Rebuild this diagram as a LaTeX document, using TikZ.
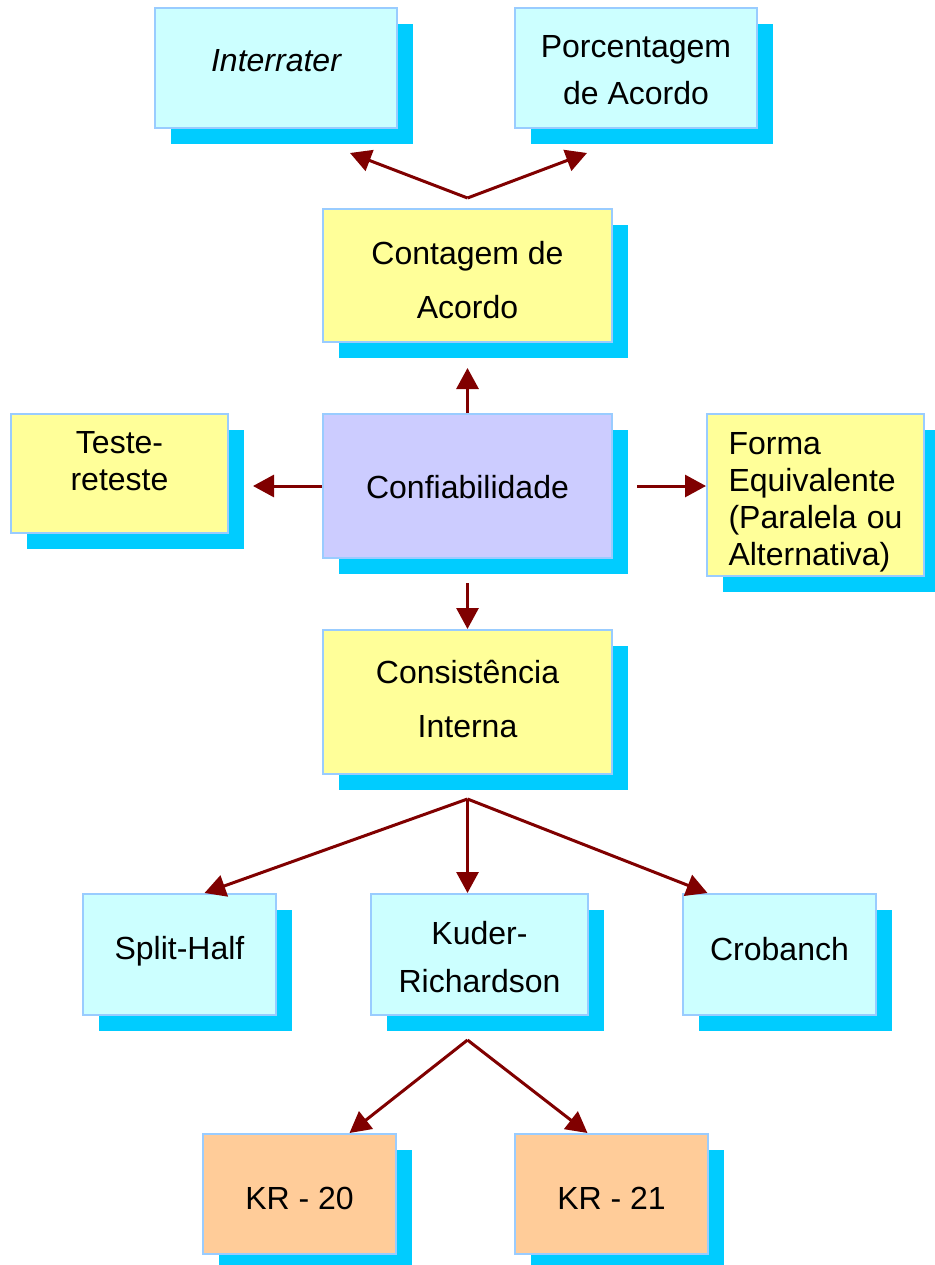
\documentclass[tikz,border=0pt]{standalone}
\usepackage{fontspec}
\setmainfont{Liberation Sans}
\usetikzlibrary{arrows.meta,shadows,calc}
\definecolor{cyanfill}{HTML}{CCFFFF}
\definecolor{yellowfill}{HTML}{FFFF99}
\definecolor{lavfill}{HTML}{CCCCFF}
\definecolor{orangefill}{HTML}{FFCC99}
\definecolor{bordercol}{HTML}{99CCFF}
\definecolor{shadowcol}{HTML}{00CCFF}
\definecolor{arrowcol}{HTML}{800000}
\newcommand{\boxtxt}[2]{\raisebox{#1}[\height][\depth]{\begin{tabular}{@{}c@{}}#2\end{tabular}}}
\tikzset{
  box/.style={draw=bordercol, line width=2pt, inner sep=0pt, align=center,
    general shadow={fill=shadowcol, shadow xshift=16pt, shadow yshift=-16pt},
    font=\fontsize{32}{38}\selectfont},
  lh/.style={font=\fontsize{32}{#1}\selectfont},
  conn/.style={draw=arrowcol, line width=3pt, -{Triangle[length=21pt,width=22pt]}}
}
\begin{document}
\begin{tikzpicture}[x=1pt,y=-1pt]
\useasboundingbox (0,0) rectangle (934,1265);
% boxes
\node[box, fill=cyanfill, minimum width=242pt, minimum height=120pt] (inter) at (276,68) {\boxtxt{4pt}{\itshape Interrater}};
\node[box, fill=cyanfill, minimum width=242pt, minimum height=120pt, lh=47] (porc) at (636,68) {\boxtxt{-4pt}{Porcentagem\\de Acordo}};
\node[box, fill=yellowfill, minimum width=289pt, minimum height=133pt, lh=54] (cont) at (467.5,275.5) {\boxtxt{-5pt}{Contagem de\\Acordo}};
\node[box, fill=yellowfill, minimum width=217pt, minimum height=119pt, lh=37] (teste) at (119.5,473.5) {\boxtxt{9pt}{Teste-\\reteste}};
\node[box, fill=lavfill, minimum width=289pt, minimum height=144pt] (conf) at (467.5,486) {\boxtxt{-5pt}{Confiabilidade}};
\node[box, fill=yellowfill, minimum width=217pt, minimum height=162pt, lh=37] (forma) at (815.5,495) {\raisebox{-8pt}[\height][\depth]{\begin{tabular}{@{}p{174pt}@{}}Forma\\Equivalente\\(Paralela\hfill ou\\Alternativa)\end{tabular}}};
\node[box, fill=yellowfill, minimum width=289pt, minimum height=144pt, lh=54] (cons) at (467.5,702) {\boxtxt{2pt}{Consistência\\Interna}};
\node[box, fill=cyanfill, minimum width=193pt, minimum height=121pt] (split) at (179.5,954.5) {\boxtxt{3pt}{Split-Half}};
\node[box, fill=cyanfill, minimum width=217pt, minimum height=121pt, lh=48] (kuder) at (479.5,954.5) {\boxtxt{-4pt}{Kuder-\\Richardson}};
\node[box, fill=cyanfill, minimum width=193pt, minimum height=121pt] (crob) at (779.5,954.5) {\boxtxt{2pt}{Crobanch}};
\node[box, fill=orangefill, minimum width=193pt, minimum height=120pt] (kr20) at (299.5,1194) {\boxtxt{-8pt}{KR - 20}};
\node[box, fill=orangefill, minimum width=193pt, minimum height=120pt] (kr21) at (611.5,1194) {\boxtxt{-8pt}{KR - 21}};
% junctions
\coordinate (jt) at ([yshift=10pt]cont.north);
\coordinate (jm) at ([yshift=-24pt]cons.south);
\coordinate (jb) at ($(kuder.south -| cons.south)+(0,24)$);
% connectors
\draw[conn] (jt) -- ([xshift=74pt,yshift=-24pt]inter.south);
\draw[conn] (jt) -- ([xshift=-49pt,yshift=-24pt]porc.south);
\draw[conn] (conf.north) -- ([yshift=-25pt]cont.south);
\draw[conn] (conf.west) -- ([xshift=24pt]conf.west -| teste.east);
\draw[conn] ([xshift=24pt]conf.east) -- (conf.east -| forma.west);
\draw[conn] ([yshift=-24pt]conf.south) -- (cons.north);
\draw[conn] (jm) -- ([xshift=25pt]split.north);
\draw[conn] (jm) -- ([xshift=-12pt]kuder.north);
\draw[conn] (jm) -- ([xshift=-72pt]crob.north);
\draw[conn] (jb) -- ([xshift=50pt]kr20.north);
\draw[conn] (jb) -- ([xshift=-24pt]kr21.north);
\end{tikzpicture}
\end{document}
